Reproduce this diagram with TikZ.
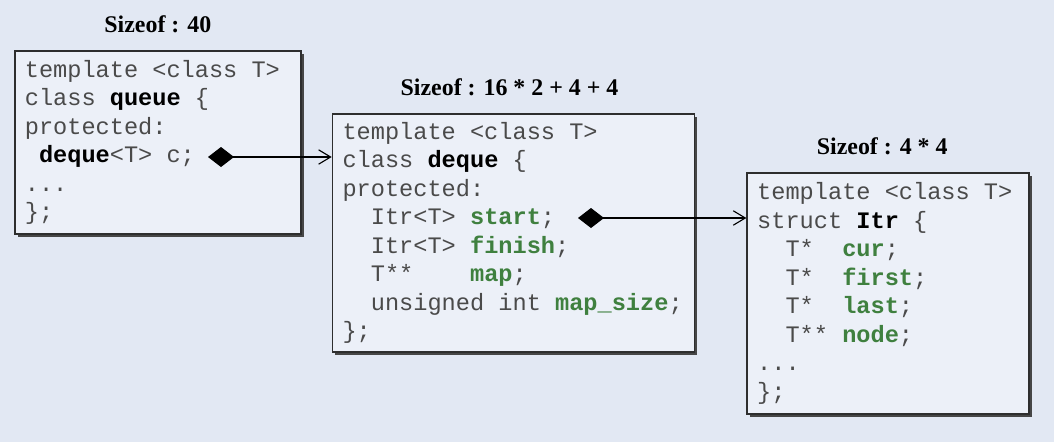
\documentclass[tikz,border=0pt]{standalone}
\usepackage{fontspec}
\setmainfont{Liberation Serif}
\setmonofont{Liberation Mono}
\usepackage{xcolor}
\usepackage{tikz}
\usetikzlibrary{arrows.meta,positioning,shadows}
\definecolor{slidebg}{HTML}{E2E8F3}
\definecolor{boxfill}{HTML}{ECF0F8}
\definecolor{boxline}{HTML}{2E2E2E}
\definecolor{codegray}{HTML}{4A4A4A}
\definecolor{fieldgreen}{HTML}{3F803F}
\newcommand\codefont{\ttfamily\fontsize{16.8}{20.3}\selectfont}
\newcommand\fld[1]{\textcolor{fieldgreen}{\textbf{#1}}}
\newcommand\cls[1]{\textcolor{black}{\textbf{#1}}}
\newcommand\ind{\phantom{xx}}

\begin{document}
\begin{tikzpicture}[
    codebox/.style={draw=boxline, line width=1.2pt, fill=boxfill, align=left, anchor=north west,
        inner xsep=0.25cm, font=\codefont, text=codegray,
        execute at begin node={\spaceskip=0pt\xspaceskip=0pt\relax},
        drop shadow={shadow xshift=2pt, shadow yshift=-2pt, fill=gray!55!black, opacity=1}},
    sizelbl/.style={font=\bfseries\fontsize{17}{20}\selectfont, inner sep=0pt},
    has/.style={{Diamond[length=0.65cm, width=0.5cm]}-{Straight Barb[length=0.3cm, width=0.36cm]}, line width=0.8pt},
    node distance=0.425cm
]
\fill[slidebg] (0,0) rectangle (26.35,-11.05);
\useasboundingbox (0,0) rectangle (26.35,-11.05);

\node[codebox, minimum width=7.15cm, minimum height=4.575cm, text width=6.65cm] (queue) at (0.35,-1.25)
    {template <class T>\\ class \cls{queue} \{\\ protected:\\ \phantom{x}\cls{deque}<T> c;\\ ...\\ \};};
\node[codebox, minimum width=9.05cm, minimum height=5.95cm, text width=8.55cm,
    below right=1.575cm and 0.75cm of queue.north east] (deque)
    {template <class T>\\ class \cls{deque} \{\\ protected:\\
     \ind Itr<T> \fld{start};\\ \ind Itr<T> \fld{finish};\\ \ind T**~~~~\fld{map};\\
     \mbox{\ind unsigned int \fld{map\_size};}\\ \};};
\node[codebox, minimum width=7.05cm, minimum height=6.025cm, text width=6.55cm,
    below right=1.475cm and 1.275cm of deque.north east] (itr)
    {template <class T>\\ struct \cls{Itr} \{\\
     \ind T*~~\fld{cur};\\ \ind T*~~\fld{first};\\ \ind T*~~\fld{last};\\ \ind T**~\fld{node};\\
     ...\\ \};};

\node[sizelbl, above=of queue] (queueSize) {Sizeof : 40};
\node[sizelbl, above=of deque, xshift=-0.1cm] (dequeSize) {Sizeof : 16 * 2 + 4 + 4};
\node[sizelbl, above=of itr, xshift=-0.15cm] (itrSize) {Sizeof : 4 * 4};

\coordinate (cMember) at (5.2,-3.925);
\coordinate (startMember) at (14.45,-5.45);
\draw[has] (cMember) -- (cMember -| deque.west);
\draw[has] (startMember) -- (startMember -| itr.west);
\end{tikzpicture}
\end{document}
